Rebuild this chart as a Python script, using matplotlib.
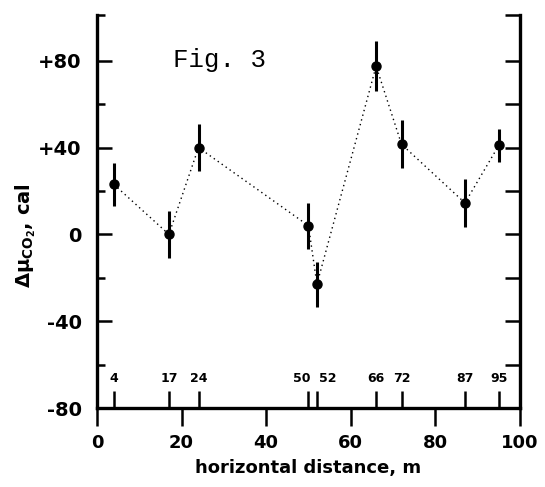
import matplotlib
matplotlib.use("Agg")
import matplotlib.pyplot as plt
import matplotlib.transforms as mtransforms

# Messpunkte: horizontale Entfernung (m), Delta mu CO2 (cal), Fehler
dist = [4, 17, 24, 50, 52, 66, 72, 87, 95]
dmu = [23, 0, 40, 4, -23, 77.5, 41.5, 14.5, 41]
err = [10, 11, 11, 10.5, 10.5, 11.5, 11, 11, 7.5]

xticks = [0, 20, 40, 60, 80, 100]
yticks = [-80, -40, 0, 40, 80]
ytick_labels = ['-80', '-40', '0', '+40', '+80']
yminor = [-60, -20, 20, 60, 101]
right_ticks = [-60, -40, -20, 0, 20, 40, 60, 80, 101]

fig = plt.figure(figsize=(5.45, 4.87), dpi=100)
ax = fig.add_axes([0.178, 0.162, 0.776, 0.807])

# gepunktete Verbindungslinie
ax.plot(dist, dmu, color='black', linewidth=1.0, linestyle=(0, (1, 2.5)))
ax.errorbar(dist, dmu, yerr=err, fmt='o', color='black', markersize=6.5,
            elinewidth=2.2, capsize=0)

ax.set_xlim(0, 100)
ax.set_ylim(-80, 101)

ax.spines['top'].set_visible(False)
ax.spines['right'].set_visible(False)
ax.spines['left'].set_linewidth(2.4)
ax.spines['bottom'].set_linewidth(2.4)

# x-Achse: Hauptstriche nach aussen, Messorte nach innen
ax.set_xticks(xticks)
ax.set_xticklabels([str(v) for v in xticks], fontsize=13, fontweight='bold')
ax.tick_params(axis='x', which='major', direction='out', length=13, width=1.8, pad=6)
ax.set_xticks(dist, minor=True)
ax.tick_params(axis='x', which='minor', direction='in', length=12, width=1.8, top=False)

# Beschriftung der Messorte ueber den Strichen (50 und 52 auseinandergeschoben)
trans = mtransforms.blended_transform_factory(ax.transData, ax.transAxes)
for d in dist:
    ha = 'center'
    dx = 0
    if d == 50:
        ha, dx = 'right', 0.5
    elif d == 52:
        ha, dx = 'left', 0.5
    ax.text(d + dx, 0.076, str(d), transform=trans, ha=ha, va='center',
            fontsize=9, fontweight='bold')

# y-Achse links
ax.set_yticks(yticks)
ax.set_yticklabels(ytick_labels, fontsize=14, fontweight='bold')
ax.tick_params(axis='y', which='major', direction='in', length=11, width=1.8, pad=11, right=False)
ax.set_yticks(yminor, minor=True)
ax.tick_params(axis='y', which='minor', direction='in', length=6, width=1.8, right=False)

# rechte Achse
ax2 = ax.twinx()
ax2.set_ylim(ax.get_ylim())
for s in ['top', 'left', 'bottom']:
    ax2.spines[s].set_visible(False)
ax2.spines['right'].set_linewidth(2.4)
ax2.set_yticks(right_ticks)
ax2.set_yticklabels([])
ax2.tick_params(axis='y', which='major', direction='in', length=11, width=1.8)
ax2.set_yticks([40], minor=True)
ax2.tick_params(axis='y', which='minor', direction='out', length=10, width=1.8)

ax.set_xlabel('horizontal distance, m', fontsize=13, fontweight='bold', labelpad=5)
ax.set_ylabel('Δμ$_{\\mathbf{CO_2}}$, cal', fontsize=14, fontweight='bold')
ax.yaxis.set_label_coords(-0.14, 0.44)

ax.text(0.18, 0.885, 'Fig. 3', transform=ax.transAxes, fontsize=18.5,
        family='Liberation Mono', va='center', ha='left')

plt.savefig('out.png', dpi=100)
